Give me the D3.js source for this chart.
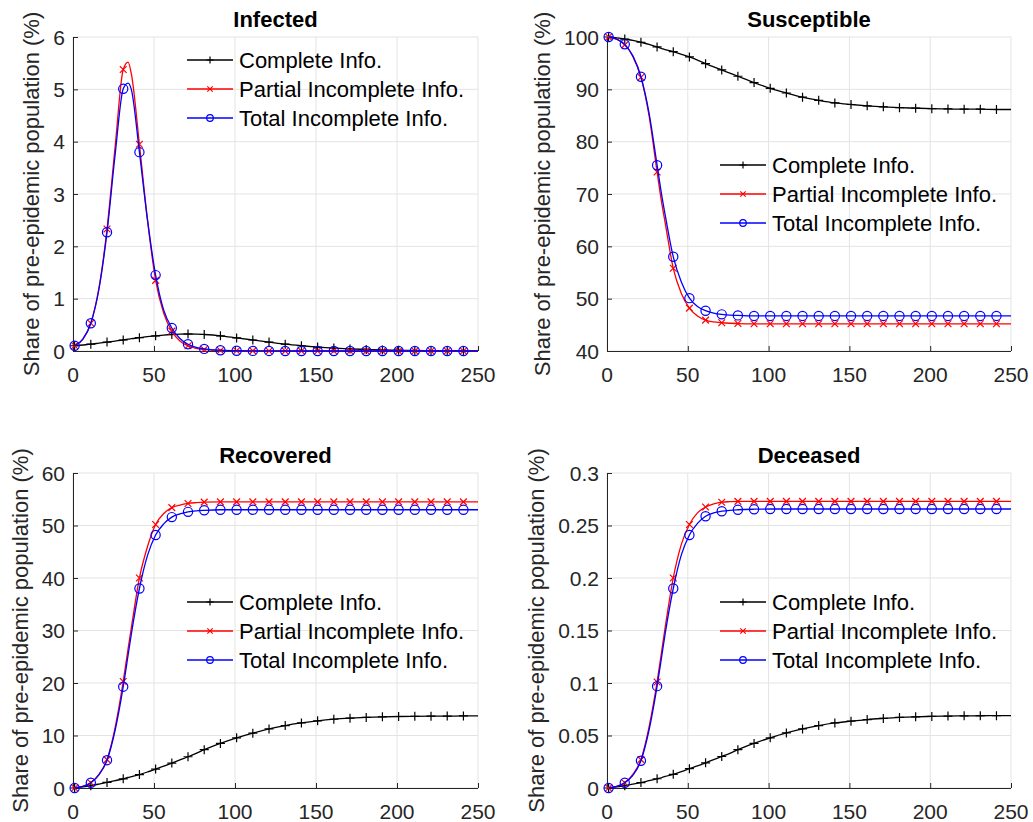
<!DOCTYPE html>
<html>
<head>
<meta charset="utf-8">
<script src="https://cdn.jsdelivr.net/npm/d3@7"></script>
<style>
  body { margin: 0; background: #fff; }
  svg { display: block; font-family: "Liberation Sans", Arial, sans-serif; }
</style>
</head>
<body>
<div id="chart"></div>
<script>
const days = [1, 6, 11, 16, 21, 26, 31, 34, 36, 41, 46, 51, 56, 61, 66, 71, 76, 81, 91, 101,
  111, 121, 131, 141, 151, 161, 171, 181, 191, 201, 211, 221, 231, 241, 250];

const seriesNames = ["Complete Info.", "Partial Incomplete Info.", "Total Incomplete Info."];
const xTicks = [0, 50, 100, 150, 200, 250];

// Infected (%)
const infectedComplete = [0.1, 0.115, 0.13, 0.15, 0.17, 0.19, 0.21, 0.225, 0.235, 0.255, 0.275, 0.29, 0.305, 0.315, 0.322, 0.325, 0.323, 0.315, 0.29, 0.25,
  0.21, 0.17, 0.13, 0.1, 0.075, 0.055, 0.04, 0.03, 0.02, 0.015, 0.01, 0.008, 0.006, 0.004, 0.003];
const infectedPartial = [0.1, 0.22, 0.53, 1.2, 2.33, 3.9, 5.38, 5.52, 5.3, 3.95, 2.5, 1.35, 0.72, 0.38, 0.19, 0.1, 0.05, 0.03, 0.01, 0.005,
  0.002, 0.001, 0, 0, 0, 0, 0, 0, 0, 0, 0, 0, 0, 0, 0];
const infectedTotal = [0.1, 0.22, 0.53, 1.18, 2.27, 3.75, 5.01, 5.12, 5.0, 3.8, 2.5, 1.45, 0.78, 0.44, 0.24, 0.13, 0.07, 0.04, 0.015, 0.005,
  0.002, 0.001, 0, 0, 0, 0, 0, 0, 0, 0, 0, 0, 0, 0, 0];
const infectedTicks = [0, 1, 2, 3, 4, 5, 6];

// Susceptible (%)
const susceptibleComplete = [100, 99.85, 99.6, 99.35, 99.0, 98.6, 98.1, 97.8, 97.6, 97.2, 96.7, 96.2, 95.6, 94.9, 94.3, 93.7, 93.1, 92.5, 91.3, 90.2,
  89.3, 88.5, 87.9, 87.4, 87.1, 86.85, 86.65, 86.5, 86.4, 86.3, 86.25, 86.2, 86.2, 86.15, 86.15];
const susceptiblePartial = [100, 99.6, 98.5, 96.3, 92.3, 85.0, 74.2, 68.0, 64.5, 55.8, 51.0, 48.2, 46.7, 45.9, 45.55, 45.4, 45.3, 45.25, 45.2, 45.2,
  45.2, 45.2, 45.2, 45.2, 45.2, 45.2, 45.2, 45.2, 45.2, 45.2, 45.2, 45.2, 45.2, 45.2, 45.2];
const susceptibleTotal = [100, 99.6, 98.6, 96.4, 92.4, 85.5, 75.5, 69.5, 66.0, 58.0, 53.2, 50.1, 48.5, 47.7, 47.25, 47.0, 46.85, 46.8, 46.7, 46.7,
  46.7, 46.7, 46.7, 46.7, 46.7, 46.7, 46.7, 46.7, 46.7, 46.7, 46.7, 46.7, 46.7, 46.7, 46.7];
const susceptibleTicks = [40, 50, 60, 70, 80, 90, 100];

// Recovered (%)
const recoveredComplete = [0, 0.2, 0.45, 0.75, 1.07, 1.4, 1.75, 2.0, 2.15, 2.55, 3.05, 3.6, 4.15, 4.75, 5.35, 5.95, 6.6, 7.3, 8.5, 9.55,
  10.45, 11.25, 11.9, 12.4, 12.8, 13.1, 13.3, 13.45, 13.55, 13.62, 13.66, 13.69, 13.7, 13.72, 13.72];
const recoveredPartial = [0, 0.3, 1.0, 2.6, 5.4, 11.5, 20.3, 26.5, 30.5, 40.0, 46.0, 50.2, 52.3, 53.4, 53.9, 54.2, 54.35, 54.45, 54.5, 54.5,
  54.5, 54.5, 54.5, 54.5, 54.5, 54.5, 54.5, 54.5, 54.5, 54.5, 54.5, 54.5, 54.5, 54.5, 54.5];
const recoveredTotal = [0, 0.3, 1.0, 2.5, 5.3, 11.0, 19.3, 25.3, 29.3, 38.0, 44.3, 48.2, 50.3, 51.6, 52.2, 52.6, 52.8, 52.9, 53.0, 53.0,
  53.0, 53.0, 53.0, 53.0, 53.0, 53.0, 53.0, 53.0, 53.0, 53.0, 53.0, 53.0, 53.0, 53.0, 53.0];
const recoveredTicks = [0, 10, 20, 30, 40, 50, 60];

// Deceased (%)
const deceasedComplete = [0, 0.001, 0.0022, 0.0036, 0.0052, 0.007, 0.0088, 0.01, 0.011, 0.013, 0.0155, 0.0184, 0.021, 0.024, 0.027, 0.030, 0.033, 0.0365, 0.0425, 0.0478,
  0.0525, 0.0563, 0.0595, 0.062, 0.0636, 0.0652, 0.0663, 0.0672, 0.0678, 0.0682, 0.0685, 0.0687, 0.0688, 0.0689, 0.0689];
const deceasedPartial = [0, 0.0015, 0.005, 0.013, 0.027, 0.058, 0.101, 0.132, 0.153, 0.2, 0.232, 0.251, 0.262, 0.2676, 0.2705, 0.2722, 0.2727, 0.273, 0.273, 0.273,
  0.273, 0.273, 0.273, 0.273, 0.273, 0.273, 0.273, 0.273, 0.273, 0.273, 0.273, 0.273, 0.273, 0.273, 0.273];
const deceasedTotal = [0, 0.0015, 0.005, 0.012, 0.026, 0.055, 0.097, 0.127, 0.147, 0.19, 0.222, 0.241, 0.252, 0.2588, 0.262, 0.2636, 0.2645, 0.265, 0.2655, 0.2657,
  0.2657, 0.2657, 0.2657, 0.2657, 0.2657, 0.2657, 0.2657, 0.2657, 0.2657, 0.2657, 0.2657, 0.2657, 0.2657, 0.2657, 0.2657];
const deceasedTicks = [0, 0.05, 0.1, 0.15, 0.2, 0.25, 0.3];

// --------------- layout ---------------
const WIDTH = 1033;
const HEIGHT = 822;
const COLORS = ["#000000", "#ff0000", "#0000ff"];
const MARKERS = ["plus", "cross", "circle"];
const GRID_COLOR = "#e3e3e3";
const AXIS_COLOR = "#262626";

const panels = [
  { title: "Infected", series: [infectedComplete, infectedPartial, infectedTotal], yTicks: infectedTicks,
    box: [73, 478, 37, 351], legend: [187, 60] },
  { title: "Susceptible", series: [susceptibleComplete, susceptiblePartial, susceptibleTotal], yTicks: susceptibleTicks,
    box: [607, 1011, 37, 351], legend: [720, 165] },
  { title: "Recovered", series: [recoveredComplete, recoveredPartial, recoveredTotal], yTicks: recoveredTicks,
    box: [73, 478, 473, 788], legend: [187, 602] },
  { title: "Deceased", series: [deceasedComplete, deceasedPartial, deceasedTotal], yTicks: deceasedTicks,
    box: [607, 1011, 473, 788], legend: [720, 602] }
];

const svg = d3.select("#chart").append("svg")
  .attr("width", WIDTH)
  .attr("height", HEIGHT);

function drawMarker(sel, type, cx, cy, r, color) {
  if (type === "circle") {
    sel.append("circle").attr("cx", cx).attr("cy", cy).attr("r", r)
      .attr("fill", "none").attr("stroke", color).attr("stroke-width", 1.2);
  } else if (type === "plus") {
    sel.append("path").attr("d", `M${cx - r},${cy}H${cx + r}M${cx},${cy - r}V${cy + r}`)
      .attr("stroke", color).attr("stroke-width", 1.2).attr("fill", "none");
  } else {
    const q = r * 0.75;
    sel.append("path").attr("d", `M${cx - q},${cy - q}L${cx + q},${cy + q}M${cx - q},${cy + q}L${cx + q},${cy - q}`)
      .attr("stroke", color).attr("stroke-width", 1.2).attr("fill", "none");
  }
}

panels.forEach(p => {
  const [left, right, top, bottom] = p.box;
  const x = d3.scaleLinear().domain([0, 250]).range([left, right]);
  const yExt = d3.extent(p.yTicks);
  const y = d3.scaleLinear().domain(yExt).range([bottom, top]);
  const g = svg.append("g");

  // grid
  g.append("g").selectAll("line").data(xTicks).enter().append("line")
    .attr("x1", d => x(d)).attr("x2", d => x(d)).attr("y1", top).attr("y2", bottom)
    .attr("stroke", GRID_COLOR).attr("stroke-width", 1);
  g.append("g").selectAll("line").data(p.yTicks).enter().append("line")
    .attr("x1", left).attr("x2", right).attr("y1", d => y(d)).attr("y2", d => y(d))
    .attr("stroke", GRID_COLOR).attr("stroke-width", 1);

  // axes (box off: left and bottom only), ticks pointing inward
  const yAxis = g.append("g").attr("transform", `translate(${left},0)`)
    .call(d3.axisRight(y).tickValues(p.yTicks).tickSize(5).tickFormat(""));
  const xAxis = g.append("g").attr("transform", `translate(0,${bottom})`)
    .call(d3.axisTop(x).tickValues(xTicks).tickSize(5).tickFormat(""));
  [xAxis, yAxis].forEach(a => {
    a.selectAll("path,line").attr("stroke", AXIS_COLOR).attr("stroke-width", 1);
    a.select(".domain").attr("d", a === xAxis ? `M${left},0.5H${right}` : `M0.5,${bottom}V${top}`);
  });

  // tick labels
  const yLabels = g.append("g").selectAll("text").data(p.yTicks).enter().append("text")
    .attr("x", left - 8).attr("y", d => y(d)).attr("dy", "0.36em")
    .attr("text-anchor", "end").attr("font-size", 21).attr("fill", AXIS_COLOR)
    .text(d => String(d));
  g.append("g").selectAll("text").data(xTicks).enter().append("text")
    .attr("x", d => x(d)).attr("y", bottom + 31)
    .attr("text-anchor", "middle").attr("font-size", 21).attr("fill", AXIS_COLOR)
    .text(d => d);

  let maxW = 0;
  yLabels.each(function () { maxW = Math.max(maxW, this.getComputedTextLength()); });

  // y label
  const ly = left - 8 - maxW - 14;
  g.append("text")
    .attr("transform", `translate(${ly},${(top + bottom) / 2}) rotate(-90)`)
    .attr("text-anchor", "middle").attr("font-size", 22).attr("fill", AXIS_COLOR)
    .text("Share of pre-epidemic population (%)");

  // title
  g.append("text")
    .attr("x", (left + right) / 2).attr("y", top - 10)
    .attr("text-anchor", "middle").attr("font-size", 22).attr("font-weight", "bold")
    .attr("fill", "#000").text(p.title);

  // series
  const line = d3.line().x(d => x(d.day)).y(d => y(d.v)).curve(d3.curveMonotoneX);
  p.series.forEach((vals, i) => {
    const pts = days.map((day, k) => ({ day: day, v: vals[k] }));
    g.append("path").datum(pts)
      .attr("d", line).attr("fill", "none")
      .attr("stroke", COLORS[i]).attr("stroke-width", 1.3);
    const mg = g.append("g");
    pts.filter(d => (d.day - 1) % 10 === 0 && d.day < 250).forEach(d => {
      drawMarker(mg, MARKERS[i], x(d.day), y(d.v), MARKERS[i] === "circle" ? 4.6 : 4.5, COLORS[i]);
    });
  });

  // legend (no box)
  const [lx, lyy] = p.legend;
  seriesNames.forEach((name, i) => {
    const yy = lyy + i * 29;
    g.append("line").attr("x1", lx).attr("x2", lx + 46).attr("y1", yy).attr("y2", yy)
      .attr("stroke", COLORS[i]).attr("stroke-width", 1.3);
    drawMarker(g, MARKERS[i], lx + 23, yy, MARKERS[i] === "circle" ? 3.3 : 3.6, COLORS[i]);
    g.append("text").attr("x", lx + 52).attr("y", yy).attr("dy", "0.36em")
      .attr("font-size", 22).attr("fill", "#000").text(name);
  });
});
</script>
</body>
</html>
